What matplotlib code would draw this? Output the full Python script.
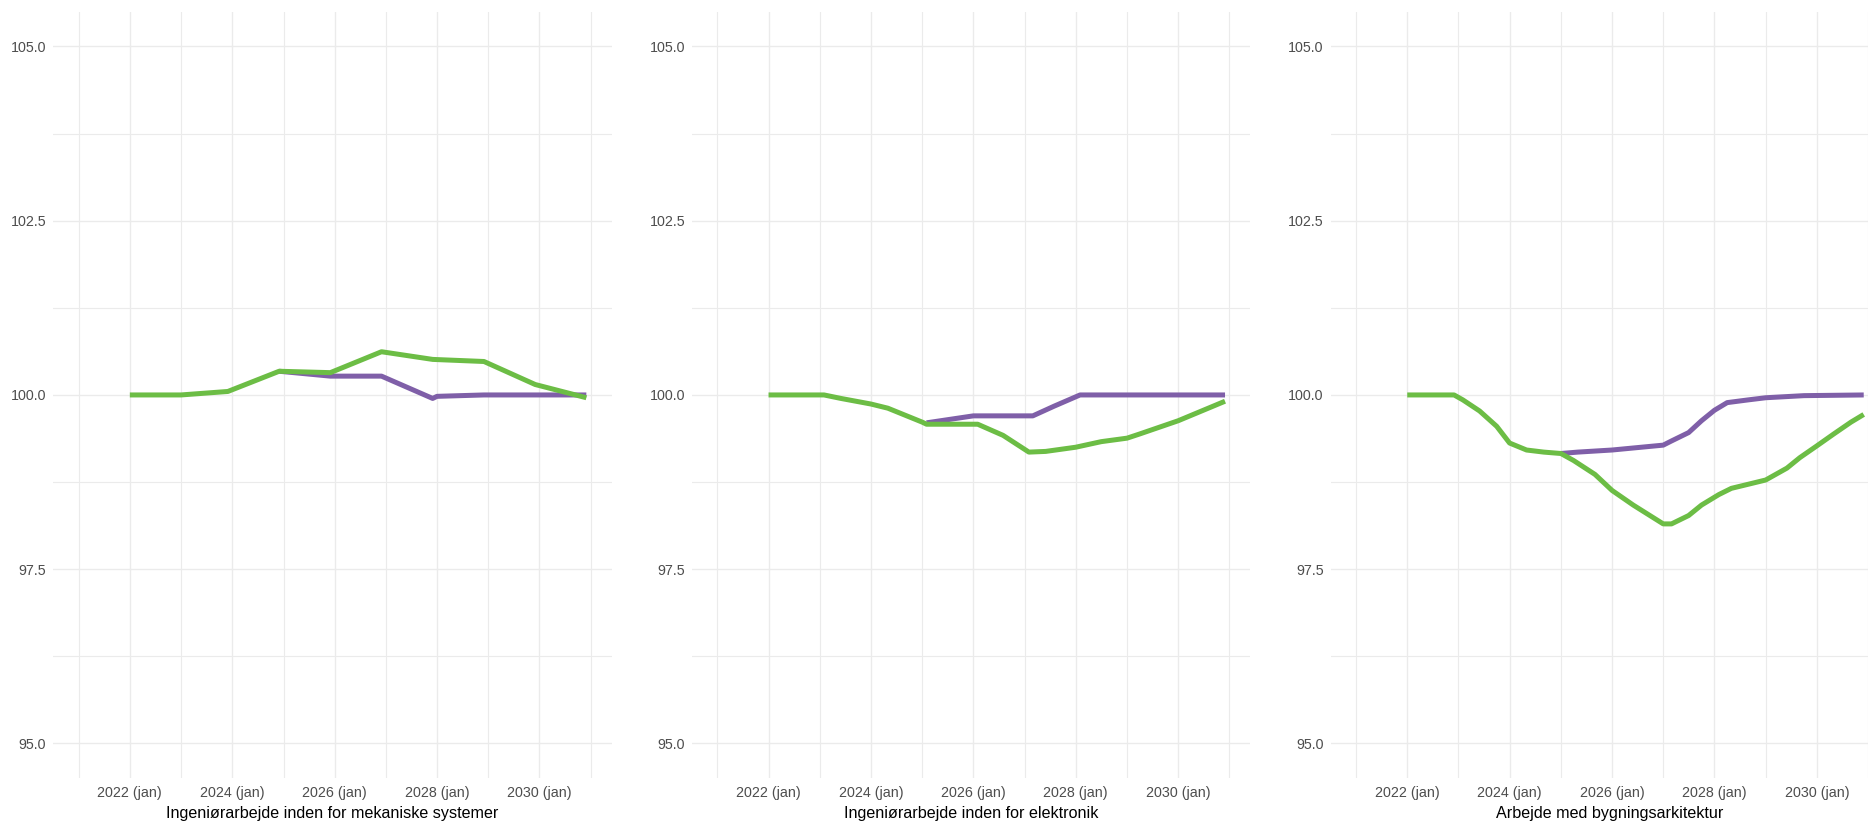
import numpy as np
import matplotlib.pyplot as plt

plt.rcParams['font.family'] = ['Liberation Sans', 'DejaVu Sans']

titles = ["Ingeniørarbejde inden for mekaniske systemer",
          "Ingeniørarbejde inden for elektronik",
          "Arbejde med bygningsarkitektur"]

# panel 1
green_dates_1 = ["2022-01", "2023-01", "2023-12", "2024-12", "2025-12", "2026-12",
                 "2027-12", "2028-12", "2029-12", "2030-12"]
green_vals_1 = [100.0, 100.0, 100.05, 100.34, 100.32, 100.62, 100.51, 100.48, 100.15, 99.96]
purple_dates_1 = ["2024-12", "2025-12", "2026-12", "2027-12", "2028-01", "2028-12", "2030-12"]
purple_vals_1 = [100.34, 100.27, 100.27, 99.95, 99.98, 100.0, 100.0]

# panel 2
green_dates_2 = ["2022-01", "2023-02", "2023-06", "2024-01", "2024-05", "2025-01", "2025-02",
                 "2026-02", "2026-08", "2027-02", "2027-06", "2028-01", "2028-07", "2029-01",
                 "2029-04", "2030-01", "2030-12"]
green_vals_2 = [100.0, 100.0, 99.95, 99.87, 99.81, 99.61, 99.58, 99.58, 99.42, 99.18, 99.19,
                99.25, 99.33, 99.38, 99.44, 99.63, 99.91]
purple_dates_2 = ["2025-02", "2026-01", "2027-03", "2027-08", "2028-02", "2030-12"]
purple_vals_2 = [99.60, 99.70, 99.70, 99.84, 100.0, 100.0]

# panel 3
green_dates_3 = ["2022-01", "2022-12", "2023-02", "2023-06", "2023-10", "2024-01", "2024-05",
                 "2024-09", "2025-01", "2025-04", "2025-09", "2026-01", "2026-06", "2027-01",
                 "2027-03", "2027-07", "2027-10", "2028-02", "2028-05", "2028-09", "2029-01",
                 "2029-06", "2029-09", "2030-01", "2030-05", "2030-09", "2030-12"]
green_vals_3 = [100.0, 100.0, 99.93, 99.77, 99.55, 99.31, 99.21, 99.18, 99.16, 99.06, 98.86,
                98.63, 98.42, 98.15, 98.15, 98.27, 98.42, 98.57, 98.66, 98.72, 98.78, 98.95,
                99.10, 99.27, 99.44, 99.61, 99.72]
purple_dates_3 = ["2025-01", "2025-05", "2026-01", "2027-01", "2027-03", "2027-07", "2027-10",
                  "2028-01", "2028-04", "2028-09", "2029-01", "2029-10", "2030-12"]
purple_vals_3 = [99.16, 99.18, 99.21, 99.28, 99.34, 99.46, 99.63, 99.78, 99.89, 99.93, 99.96,
                 99.99, 100.0]

major_years = [2022, 2024, 2026, 2028, 2030]
minor_years = [2021, 2023, 2025, 2027, 2029, 2031]
y_major = [95.0, 97.5, 100.0, 102.5, 105.0]
y_minor = [96.25, 98.75, 101.25, 103.75]

GREEN = "#6cbd45"
PURPLE = "#7f5fa8"
GRID = "#ebebeb"


def months(lst):
    return np.array(lst, dtype="datetime64[M]").astype("datetime64[D]")


def year_dates(years):
    return np.array([f"{y}-01-01" for y in years], dtype="datetime64[D]")


panels = [
    (green_dates_1, green_vals_1, purple_dates_1, purple_vals_1),
    (green_dates_2, green_vals_2, purple_dates_2, purple_vals_2),
    (green_dates_3, green_vals_3, purple_dates_3, purple_vals_3),
]

fig = plt.figure(figsize=(18.68, 8.25), dpi=100)
W, H = 1868.0, 825.0
lefts = [53.3, 692.0, 1330.7]
ax_w = 558.4
ax_top, ax_bot = 11.6, 778.3

# 5% expansion around 2021-01 .. 2030-12 like the original
x0 = np.datetime64("2021-01-01")
x1 = np.datetime64("2030-12-01")
pad = (x1 - x0) * 0.05

for i, (gd, gv, pd_, pv) in enumerate(panels):
    ax = fig.add_axes([lefts[i] / W, 1 - ax_bot / H, ax_w / W, (ax_bot - ax_top) / H])
    ax.plot(months(pd_), pv, color=PURPLE, lw=3.6, solid_capstyle="butt", zorder=3)
    ax.plot(months(gd), gv, color=GREEN, lw=3.6, solid_capstyle="butt", zorder=4)

    ax.set_xlim(x0 - pad, x1 + pad)
    ax.set_ylim(94.5, 105.5)
    ax.set_xticks(year_dates(major_years))
    ax.set_xticklabels([f"{y} (jan)" for y in major_years])
    ax.set_xticks(year_dates(minor_years), minor=True)
    ax.set_yticks(y_major)
    ax.set_yticklabels([f"{v:.1f}" for v in y_major])
    ax.set_yticks(y_minor, minor=True)

    ax.grid(which="major", color=GRID, lw=1.0)
    ax.grid(which="minor", color=GRID, lw=0.8)
    ax.set_axisbelow(True)
    for s in ax.spines.values():
        s.set_visible(False)
    ax.tick_params(which="both", length=0, labelsize=10.3, labelcolor="#4d4d4d")
    ax.tick_params(axis="x", pad=5.5)
    ax.tick_params(axis="y", pad=5)
    ax.set_xlabel(titles[i], fontsize=11.6, color="black", labelpad=4.5)

plt.savefig("out.png", dpi=100)
plt.close()
